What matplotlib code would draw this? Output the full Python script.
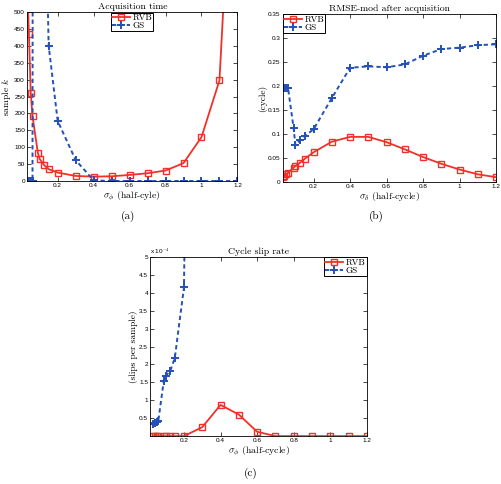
import numpy as np
import matplotlib.pyplot as plt

plt.rcParams['mathtext.fontset'] = 'cm'

# common x grid (sigma, half-cycle)
sigma = [0.03, 0.04, 0.05, 0.06, 0.09, 0.1, 0.125, 0.15, 0.2, 0.3,
         0.4, 0.5, 0.6, 0.7, 0.8, 0.9, 1.0, 1.1, 1.2]

# (a) acquisition time, samples
acq_rvb = [600, 436, 262, 192, 83, 65, 47, 35, 25, 15,
           13, 14, 18, 23, 31, 53, 130, 298, 1300]
acq_gs = [0, 0, 0, 0, 20000, 20000, 1000, 400, 178, 62,
          2, 0, 0, 0, 0, 0, 0, 0, 0]

# (b) RMSE-mod after acquisition, cycle
rmse_rvb = [0.010, 0.013, 0.016, 0.019, 0.030, 0.033, 0.040, 0.048, 0.062, 0.084,
            0.094, 0.094, 0.083, 0.068, 0.052, 0.038, 0.026, 0.016, 0.010]
rmse_gs = [0.195, 0.195, 0.196, 0.195, 0.113, 0.077, 0.087, 0.095, 0.110, 0.175,
           0.238, 0.241, 0.239, 0.245, 0.263, 0.277, 0.280, 0.285, 0.287]

# (c) cycle slip rate, in units of 1e-4 slips per sample
slip_rvb = [0, 0, 0, 0, 0, 0, 0, 0, 0, 0.25,
            0.87, 0.60, 0.12, 0, 0, 0, 0, 0, 0]
slip_gs = [0.33, 0.37, 0.40, 0.43, 1.55, 1.68, 1.82, 2.18, 4.15, 40,
           60, 80, 90, 95, 100, 100, 100, 100, 100]

xticks = [0.2, 0.4, 0.6, 0.8, 1.0, 1.2]
xticklabels = ['0.2', '0.4', '0.6', '0.8', '1', '1.2']

red = '#f2302a'
blue = '#2450b8'
serif = 'cmr10'


def draw(ax, rvb, gs, title, ylabel, xlabel, legend_loc):
    ax.plot(sigma, rvb, color=red, lw=1.3, marker='s', ms=4.6,
            mfc='none', mec=red, mew=1.0, label='RVB')
    ax.plot(sigma, gs, color=blue, lw=1.4, ls=(0, (2.2, 1.6)), marker='+',
            ms=5.5, mew=1.4, label='GS')
    ax.set_xticks(xticks)
    ax.set_xticklabels(xticklabels)
    ax.tick_params(direction='in', top=True, right=True, length=3,
                   width=0.5, labelsize=4.6, pad=1.5)
    for s in ax.spines.values():
        s.set_linewidth(0.6)
    ax.set_title(title, family=serif, fontsize=7, pad=2)
    ax.set_ylabel(ylabel, family=serif, fontsize=6.8, labelpad=0.5)
    ax.set_xlabel(xlabel, family=serif, fontsize=7, labelpad=1)
    leg = ax.legend(loc=legend_loc, handlelength=2.0,
                    borderpad=0.1, labelspacing=0.0, handletextpad=0.3,
                    borderaxespad=0.05, fancybox=False, framealpha=1,
                    prop={'family': serif, 'size': 6.5})
    leg.get_frame().set_edgecolor('black')
    leg.get_frame().set_linewidth(0.7)


def sans_ticks(ax):
    for lab in ax.get_xticklabels() + ax.get_yticklabels():
        lab.set_family('Liberation Sans')


fig = plt.figure(figsize=(5.02, 4.84), dpi=100)

ax1 = fig.add_axes([0.054, 0.626, 0.419, 0.349])
draw(ax1, acq_rvb, acq_gs, 'Acquisition time', r'sample $k$',
     r'$\sigma_\phi$ (half-cyle)', 'upper center')
ax1.set_xlim(0.03, 1.2)
ax1.set_ylim(0, 500)
ax1.set_yticks(np.arange(0, 501, 50))
sans_ticks(ax1)

ax2 = fig.add_axes([0.563, 0.624, 0.425, 0.347])
draw(ax2, rmse_rvb, rmse_gs, 'RMSE-mod after acquisition', '(cycle)',
     r'$\sigma_\delta$ (half-cycle)', 'upper left')
ax2.set_xlim(0.03, 1.2)
ax2.set_ylim(0, 0.35)
ax2.set_yticks(np.arange(0, 0.351, 0.05))
ax2.set_yticklabels(['0', '0.05', '0.1', '0.15', '0.2', '0.25', '0.3', '0.35'])
sans_ticks(ax2)

ax3 = fig.add_axes([0.299, 0.099, 0.432, 0.370])
draw(ax3, slip_rvb, slip_gs, 'Cycle slip rate', '(slips per sample)',
     r'$\sigma_\phi$ (half-cycle)', 'upper right')
ax3.set_xlim(0.015, 1.2)
ax3.set_ylim(0, 5)
ax3.set_yticks(np.arange(0.5, 5.01, 0.5))
ax3.set_yticklabels(['0.5', '1', '1.5', '2', '2.5', '3', '3.5', '4', '4.5', '5'])
sans_ticks(ax3)
ax3.text(0.0, 1.005, r'x 10$^{-4}$', transform=ax3.transAxes, fontsize=4.6,
         family='Liberation Sans', va='bottom', ha='left')

fig.text(128 / 502, 1 - 216 / 484, '(a)', family=serif, fontsize=8, ha='center', va='center')
fig.text(376 / 502, 1 - 216 / 484, '(b)', family=serif, fontsize=8, ha='center', va='center')
fig.text(251 / 502, 1 - 473 / 484, '(c)', family=serif, fontsize=8, ha='center', va='center')

fig.savefig('out.png', dpi=100)
